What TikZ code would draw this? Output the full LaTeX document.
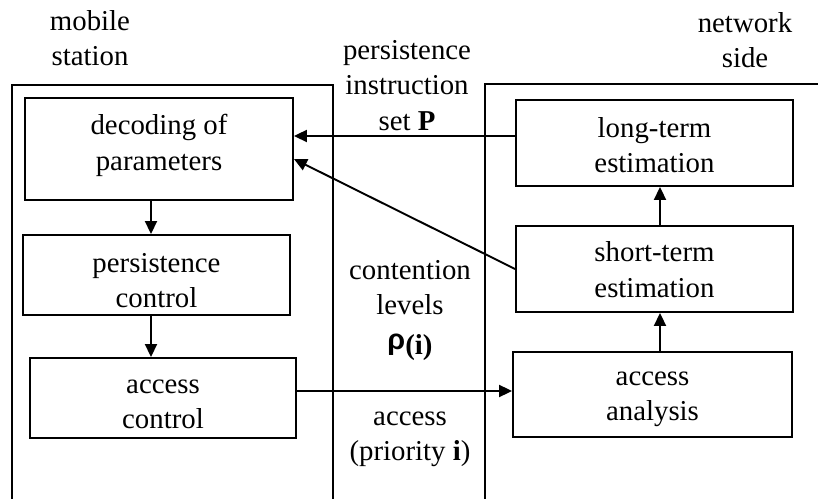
\documentclass[tikz,border=0pt]{standalone}
\usepackage{fontspec}
\setmainfont{Liberation Serif}
\newfontfamily\rhofont{Liberation Sans}
\usetikzlibrary{positioning,arrows.meta}

\begin{document}
\begin{tikzpicture}[
    x=0.02cm, y=-0.02cm,
    font=\fontsize{16.4}{20}\selectfont,
    line width=1.1pt,
    block/.style={rectangle, draw, inner sep=0pt, align=center,
        text height=37pt, text depth=#1},
    block/.default=3pt,
    caption/.style={align=center, inner sep=0pt},
    arrow/.style={-{Triangle[length=2.6mm, width=2.4mm]}}
]
    \useasboundingbox (0,0) rectangle (818,499);

    % the two sides
    \draw (12,499) -- (12,85) -- (333,85) -- (333,499);
    \draw (485,499) -- (485,84) -- (818,84);

    \node[block=13pt, minimum width=5.36cm, minimum height=2.04cm] (decoding) at (159,149) {decoding of\\parameters};
    \node[block=0.4pt, minimum width=5.34cm, minimum height=1.6cm] (persistence) at (156.5,275) {persistence\\control};
    \node[block=2.6pt, minimum width=5.32cm, minimum height=1.6cm] (accessctl) at (163,398) {access\\control};

    \node[block=3.8pt, minimum width=5.54cm, minimum height=1.72cm] (longterm) at (654.5,143) {long-term\\estimation};
    \node[block=5pt, minimum width=5.54cm, minimum height=1.72cm] (shortterm) at (654.5,269) {short-term\\estimation};
    \node[block=7.8pt, minimum width=5.58cm, minimum height=1.7cm] (analysis) at (652.5,394.5) {access\\analysis};

    \node[caption] (mobile) at (90,38) {mobile\\station};
    \node[caption] (network) at (745,40) {network\\side};
    \node[caption] (setP) at (407,85.5) {persistence\\instruction\\set \textbf{P}};
    \node[caption] (levels) at (410,310.5) {contention\\levels\\{\rhofont\bfseries ρ}\raisebox{-2.5pt}{\textbf{(i)}}};
    \node[caption] (prio) at (410,439.5) {access\\(priority \textbf{i})};

    \coordinate (lx) at (151,0);
    \coordinate (rx) at (660,0);
    \coordinate (py) at (0,136);
    \coordinate (ay) at (0,391);

    \draw[arrow] (decoding.south -| lx) -- (persistence.north -| lx);
    \draw[arrow] (persistence.south -| lx) -- (accessctl.north -| lx);
    \draw[arrow] (analysis.north -| rx) -- (shortterm.south -| rx);
    \draw[arrow] (shortterm.north -| rx) -- (longterm.south -| rx);
    \draw[arrow] (longterm.west |- py) -- (decoding.east |- py);
    \draw[arrow] (shortterm.west) -- ([yshift=-0.2cm]decoding.east);
    \draw[arrow] (accessctl.east |- ay) -- (analysis.west |- ay);
\end{tikzpicture}
\end{document}
